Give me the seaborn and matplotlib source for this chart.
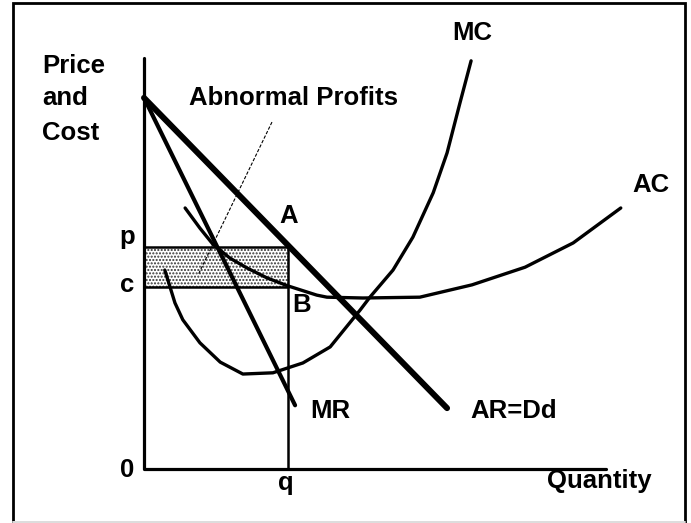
import matplotlib
matplotlib.use("Agg")
import matplotlib.pyplot as plt
import seaborn as sns

# ---- data (quantity, price) ----
ar_q = [0.0, 6.56]
ar_p = [9.03, 1.48]

mr_q = [0.0, 3.27]
mr_p = [9.03, 1.55]

ac_q = [0.89, 1.21, 1.49, 1.86, 2.23, 2.66, 3.10, 3.74, 3.96, 4.74, 5.97, 7.10, 8.25, 9.29, 10.32]
ac_p = [6.35, 5.86, 5.47, 5.13, 4.89, 4.65, 4.46, 4.23, 4.18, 4.16, 4.18, 4.48, 4.91, 5.50, 6.35]

mc_q = [0.45, 0.67, 0.84, 1.21, 1.65, 2.14, 2.79, 3.44, 4.03, 4.68, 4.89, 5.39,
        5.82, 6.26, 6.56, 6.84, 7.08]
mc_p = [4.84, 4.04, 3.63, 3.07, 2.60, 2.31, 2.34, 2.58, 2.97, 3.87, 4.18, 4.84,
        5.64, 6.72, 7.69, 8.91, 9.93]

price_p = 5.40
cost_c = 4.43
output_q = 3.12

axis_max_q = 10.0
axis_max_p = 10.0

sns.set_theme(style="white")
plt.rcParams["font.family"] = ["Liberation Sans", "DejaVu Sans"]

fig = plt.figure(figsize=(6.91, 5.23), dpi=100)
ax = fig.add_axes([0, 0, 1, 1])
ax.set_xlim(-3.117, 11.84)
ax.set_ylim(-1.314, 11.41)
ax.axis("off")

# outer frame
ax.plot([0.019, 0.019, 0.992, 0.992], [0.0, 0.994, 0.994, 0.0], transform=ax.transAxes,
        color="black", lw=2.0, solid_joinstyle="miter")
ax.plot([0.019, 0.992], [0.002, 0.002], transform=ax.transAxes, color="#dddddd", lw=1.4)

# abnormal profits area
ax.fill_between([0, output_q], cost_c, price_p, facecolor="white",
                edgecolor="#333333", hatch=".....", linewidth=0)

# axes
ax.plot([0, 0, axis_max_q], [axis_max_p, 0, 0], color="black", lw=2.3)

# p, c and q lines
ax.plot([0, output_q, output_q], [price_p, price_p, 0], color="black", lw=1.8)
ax.plot([0, output_q], [cost_c, cost_c], color="black", lw=1.8)

# curves
sns.lineplot(x=ac_q, y=ac_p, sort=False, color="black", lw=2.4, ax=ax)
sns.lineplot(x=mc_q, y=mc_p, sort=False, color="black", lw=2.4, ax=ax)
sns.lineplot(x=mr_q, y=mr_p, sort=False, color="black", lw=3.0, ax=ax)
sns.lineplot(x=ar_q, y=ar_p, sort=False, color="black", lw=4.3, ax=ax)

# leader line for the label
ax.plot([2.77, 1.17], [8.44, 4.72], color="black", lw=0.8, ls=(0, (3, 1.5)))

fs = 18.5
kw = dict(fontsize=fs, fontweight="bold", color="black", va="baseline")
ax.text(-2.21, 9.64, "Price", ha="left", **kw)
ax.text(-2.21, 8.86, "and", ha="left", **kw)
ax.text(-2.21, 8.00, "Cost", ha="left", **kw)
ax.text(0.97, 8.86, "Abnormal Profits", ha="left", **kw)
ax.text(7.10, 10.44, "MC", ha="center", **kw)
ax.text(10.97, 6.74, "AC", ha="center", **kw)
ax.text(3.14, 5.99, "A", ha="center", **kw)
ax.text(3.40, 3.82, "B", ha="center", **kw)
ax.text(3.59, 1.25, "MR", ha="left", **kw)
ax.text(7.06, 1.25, "AR=Dd", ha="left", **kw)
ax.text(-0.37, 5.47, "p", ha="center", **kw)
ax.text(-0.37, 4.31, "c", ha="center", **kw)
ax.text(-0.37, -0.19, "0", ha="center", **kw)
ax.text(3.07, -0.51, "q", ha="center", **kw)
ax.text(8.72, -0.46, "Quantity", ha="left", **kw)

fig.savefig("out.png", dpi=100)
